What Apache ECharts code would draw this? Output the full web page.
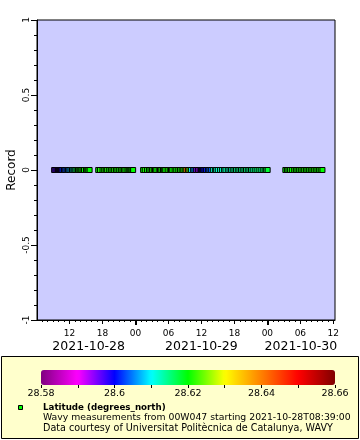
<!DOCTYPE html>
<html><head><meta charset="utf-8">
<script src="https://cdn.jsdelivr.net/npm/echarts@6/dist/echarts.min.js"></script>
<style>html,body{margin:0;padding:0;background:#fff}#c{width:360px;height:440px}</style>
</head><body><div id="c"></div>
<script>
const times = [
'10-28 09:13','10-28 09:27','10-28 09:41','10-28 09:56','10-28 10:07','10-28 10:18','10-28 10:29','10-28 10:43','10-28 11:01','10-28 11:15',
'10-28 11:30','10-28 11:45','10-28 11:59','10-28 12:13','10-28 12:28','10-28 12:42','10-28 12:53','10-28 13:04','10-28 13:18','10-28 13:34',
'10-28 13:48','10-28 13:59','10-28 14:10','10-28 14:24','10-28 14:39','10-28 15:01','10-28 15:15','10-28 15:26','10-28 15:40',
'10-28 17:14','10-28 17:33','10-28 18:01','10-28 18:20','10-28 18:36','10-28 18:52','10-28 19:14','10-28 19:32','10-28 19:50','10-28 20:08',
'10-28 20:27','10-28 20:44','10-28 21:03','10-28 21:21','10-28 21:39','10-28 21:54','10-28 22:11','10-28 22:33','10-28 22:46','10-28 22:57',
'10-28 23:08','10-28 23:19','10-28 23:35',
'10-29 01:24','10-29 01:42','10-29 02:07','10-29 02:29','10-29 02:45','10-29 03:02','10-29 03:20','10-29 03:34','10-29 03:48','10-29 04:14',
'10-29 04:29','10-29 04:43','10-29 05:01','10-29 05:14','10-29 05:26','10-29 05:52','10-29 06:14','10-29 06:28','10-29 06:42','10-29 07:08',
'10-29 07:26','10-29 07:48','10-29 08:06','10-29 08:25','10-29 08:42','10-29 08:58','10-29 09:15','10-29 09:33','10-29 09:49','10-29 10:06',
'10-29 10:27','10-29 10:44','10-29 11:03','10-29 11:22','10-29 11:40','10-29 11:55','10-29 12:05','10-29 12:16','10-29 12:33','10-29 12:49',
'10-29 13:11','10-29 13:27','10-29 13:43','10-29 14:05','10-29 14:27','10-29 14:41','10-29 14:59','10-29 15:24','10-29 15:46','10-29 16:08',
'10-29 16:23','10-29 16:48','10-29 17:07','10-29 17:24','10-29 17:42','10-29 18:01','10-29 18:18','10-29 18:37','10-29 18:55','10-29 19:13',
'10-29 19:31','10-29 19:50','10-29 20:07','10-29 20:26','10-29 20:44','10-29 21:02','10-29 21:20','10-29 21:42','10-29 22:03','10-29 22:25',
'10-29 22:47','10-29 23:09','10-29 23:30','10-29 23:47','10-30 00:03',
'10-30 03:16','10-30 03:33','10-30 03:50','10-30 04:06','10-30 04:27','10-30 04:53','10-30 05:11','10-30 05:29','10-30 05:47','10-30 06:05',
'10-30 06:24','10-30 06:42','10-30 07:00','10-30 07:18','10-30 07:36','10-30 07:54','10-30 08:12','10-30 08:31','10-30 08:48','10-30 09:07',
'10-30 09:25','10-30 09:42','10-30 10:01'
];
const latitudes = [
28.596,28.597,28.596,28.597,28.598,28.598,28.599,28.601,28.602,28.603,
28.604,28.605,28.606,28.609,28.610,28.611,28.613,28.615,28.618,28.619,
28.620,28.620,28.620,28.621,28.620,28.620,28.621,28.620,28.620,
28.620,28.621,28.620,28.621,28.620,28.621,28.620,28.621,28.620,28.621,
28.620,28.621,28.620,28.621,28.620,28.621,28.620,28.621,28.620,28.621,
28.620,28.621,28.620,
28.620,28.621,28.620,28.621,28.620,28.621,28.620,28.621,28.620,28.621,
28.620,28.621,28.620,28.621,28.620,28.621,28.620,28.621,28.620,28.621,
28.620,28.621,28.620,28.622,28.621,28.622,28.640,28.636,28.622,28.610,
28.607,28.605,28.595,28.593,28.595,28.597,28.599,28.600,28.600,28.601,
28.603,28.604,28.604,28.612,28.612,28.613,28.612,28.613,28.612,28.613,
28.613,28.613,28.612,28.613,28.614,28.614,28.614,28.615,28.614,28.615,
28.614,28.615,28.615,28.614,28.615,28.615,28.614,28.615,28.615,28.616,
28.615,28.616,28.616,28.617,28.618,
28.620,28.621,28.620,28.621,28.620,28.621,28.620,28.621,28.620,28.621,
28.620,28.621,28.620,28.621,28.620,28.621,28.620,28.621,28.620,28.621,
28.620,28.621,28.620
];
const hourTickValues = [12,18,24,30,36,42,48,54,60];
const hourTickLabels = ['12','18','00','06','12','18','00','06','12'];
const dayTickValues = [24,48];
const dayLabelValues = [15.5,36,54.1];
const dayLabels = ['2021-10-28','2021-10-29','2021-10-30'];
const yTickValues = [-1,-0.5,0,0.5,1];
const yTickLabels = ['-1','-0.5','0','0.5','1'];
const colorbarTickValues = [28.58,28.59,28.60,28.61,28.62,28.63,28.64,28.65,28.66];
const colorbarLabelValues = [28.58,28.6,28.62,28.64,28.66];
const colorbarLabels = ['28.58','28.6','28.62','28.64','28.66'];
const paletteColors = ['#800080','#ff00ff','#0000ff','#00ffff','#00ff00','#ffff00','#ff8000','#ff0000','#800000'];
const seriesName = 'Latitude (degrees_north)';
const infoLines = ['Wavy measurements from 00W047 starting 2021-10-28T08:39:00','Data courtesy of Universitat Polit\u00e8cnica de Catalunya, WAVY'];

function toHours(s){
  const [md,hm] = s.split(' ');
  const d = Number(md.split('-')[1]);
  const [h,m] = hm.split(':').map(Number);
  return (d-28)*24 + h + m/60;
}
const points = times.map((t,i)=>[toHours(t),0,latitudes[i]]);
const hourlyTicks = [];
for (let h=7; h<=60; h++) hourlyTicks.push(h);

const X_MIN = 6.1, X_MAX = 60.3;
const FONT = 'DejaVu Sans';
const lookup = (vals,labs)=>v=>{const i=vals.findIndex(x=>Math.abs(x-v)<1e-6);return i<0?'':labs[i];};
const baseX = {type:'value',gridIndex:0,min:X_MIN,max:X_MAX,position:'bottom',offset:0,splitLine:{show:false}};

const chart = echarts.init(document.getElementById('c'),null,{renderer:'canvas'});
chart.setOption({
  animation:false,
  textStyle:{fontFamily:FONT,color:'#000'},
  grid:[
    {left:37,top:20,width:298,height:300,show:true,backgroundColor:'#ccccff',borderColor:'#000',borderWidth:1,outerBoundsMode:'none',containLabel:false},
    {left:41,top:384,width:294,height:1,outerBoundsMode:'none',containLabel:false}
  ],
  xAxis:[
    Object.assign({},baseX,{
     axisLine:{show:true,onZero:false,lineStyle:{color:'#000',width:1}},
     axisTick:{show:true,customValues:hourTickValues,length:4,lineStyle:{color:'#000'}},
     axisLabel:{show:true,customValues:hourTickValues,formatter:lookup(hourTickValues,hourTickLabels),fontSize:9,color:'#000',margin:9,fontFamily:FONT}}),
    Object.assign({},baseX,{
     axisLine:{show:false,onZero:false},
     axisTick:{show:true,customValues:hourlyTicks,length:2,lineStyle:{color:'#000'}},
     axisLabel:{show:false}}),
    Object.assign({},baseX,{
     axisLine:{show:false,onZero:false},
     axisTick:{show:true,customValues:dayTickValues,length:5,lineStyle:{color:'#000',width:2}},
     axisLabel:{show:false}}),
    Object.assign({},baseX,{
     axisLine:{show:false,onZero:false},axisTick:{show:false},
     axisLabel:{show:true,customValues:dayLabelValues,formatter:lookup(dayLabelValues,dayLabels),fontSize:12.5,color:'#000',margin:20,fontFamily:FONT}}),
    {type:'value',gridIndex:1,min:28.58,max:28.66,position:'bottom',
     axisLine:{show:false,onZero:false},
     axisTick:{show:true,customValues:colorbarTickValues,length:3,lineStyle:{color:'#000'}},
     axisLabel:{show:true,customValues:colorbarLabelValues,formatter:lookup(colorbarLabelValues,colorbarLabels),fontSize:9.5,color:'#000',margin:4,fontFamily:FONT},
     splitLine:{show:false}}
  ],
  yAxis:[
    {type:'value',gridIndex:0,min:-1,max:1,interval:0.5,
     name:'Record',nameLocation:'middle',nameGap:19,nameRotate:90,nameMoveOverlap:false,nameTextStyle:{fontSize:12,color:'#000',fontFamily:FONT},
     axisLine:{show:true,onZero:false,lineStyle:{color:'#000'}},
     axisTick:{show:true,length:6,lineStyle:{color:'#000'}},
     minorTick:{show:true,splitNumber:5,length:3,lineStyle:{color:'#000'}},
     axisLabel:{rotate:90,fontSize:9,color:'#000',margin:6,formatter:lookup(yTickValues,yTickLabels),fontFamily:FONT},
     splitLine:{show:false},minorSplitLine:{show:false}},
    {type:'value',gridIndex:1,show:false}
  ],
  visualMap:{
    type:'continuous',min:28.58,max:28.66,dimension:2,seriesIndex:0,
    orient:'horizontal',left:41,top:370,itemWidth:15,itemHeight:294,
    text:null,calculable:false,padding:0,showLabel:false,hoverLink:false,
    inRange:{color:paletteColors}
  },
  graphic:[
    {type:'rect',z:-10,shape:{x:1.5,y:356.5,width:357,height:82},style:{fill:'#ffffcc',stroke:'#000',lineWidth:1}},
    {type:'rect',z:10,shape:{x:18.5,y:405.5,width:4,height:4},style:{fill:'#00ff00',stroke:'#000',lineWidth:1}},
    {type:'text',z:10,x:43,y:408,style:{text:seriesName,font:'bold 8.7px "DejaVu Sans"',fill:'#000',verticalAlign:'middle'}},
    {type:'text',z:10,x:43,y:418,style:{text:infoLines[0],font:'9.3px "DejaVu Sans"',fill:'#000',verticalAlign:'middle'}},
    {type:'text',z:10,x:43,y:428,style:{text:infoLines[1],font:'9.6px "DejaVu Sans"',fill:'#000',verticalAlign:'middle'}}
  ],
  series:[{
    name:seriesName,type:'scatter',xAxisIndex:0,yAxisIndex:0,
    symbol:'rect',symbolSize:5,
    itemStyle:{borderColor:'#000',borderWidth:1,opacity:1},
    data:points
  }]
});
</script></body></html>
